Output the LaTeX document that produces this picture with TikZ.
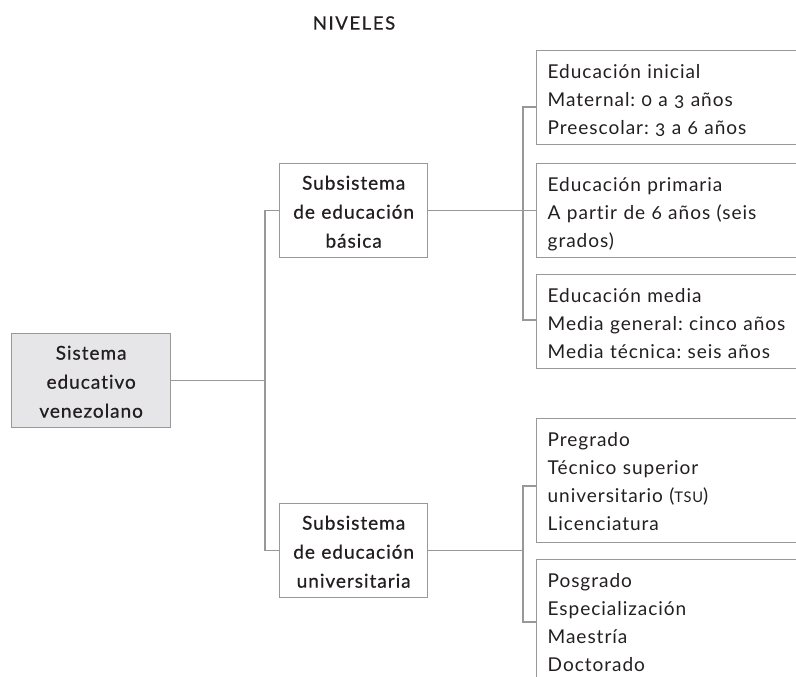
\documentclass[tikz,border=0pt]{standalone}
\usepackage{fontspec}
\setmainfont{Lato}[Numbers=OldStyle,LetterSpace=5,Ligatures=NoCommon]
\newfontfamily\medf{Lato}[Numbers=OldStyle,FakeBold=0.6,LetterSpace=5,Ligatures=NoCommon]
\newfontfamily\titf{Lato}[FakeBold=0.6,LetterSpace=9]
\frenchspacing
\newcommand\topst[1]{\rule{0pt}{#1}}
\newcommand\botst[1]{\rule[-#1]{0pt}{#1}}
\newcommand\fakesc[1]{{\fontsize{11pt}{11pt}\selectfont #1}}
\definecolor{linegray}{RGB}{152,152,152}
\definecolor{rootfill}{RGB}{230,230,232}
\definecolor{ink}{RGB}{35,31,32}
\tikzset{
  conn/.style={draw=linegray,line width=1pt},
  midbox/.style={draw=linegray,line width=1pt,anchor=north west,inner xsep=0pt,inner ysep=0pt,
    minimum width=111pt,text width=111pt,align=center,text=ink,
    font=\medf\fontsize{14.3pt}{21.75pt}\selectfont},
  rootbox/.style={midbox,minimum width=119.25pt,text width=119.25pt,fill=rootfill},
  leafbox/.style={draw=linegray,line width=1pt,anchor=north west,inner xsep=8.25pt,inner ysep=0pt,
    text width=204pt,align=left,text=ink,
    font=\frenchspacing\fontsize{14.3pt}{21pt}\selectfont},
  titlenode/.style={text=ink,font=\titf\fontsize{13.8pt}{16pt}\selectfont}
}
\begin{document}
\begin{tikzpicture}[x=0.75pt,y=-0.75pt]
\useasboundingbox (0,0) rectangle (796,677);
\clip (0,0) rectangle (796,677);

\node[titlenode] (title) at (354,23) {NIVELES};

\node[rootbox] (root) at (11,333) {\topst{19.5pt}Sistema\\educativo\\venezolano\botst{7.5pt}};

\node[midbox] (basic) at (279,163) {\topst{19.5pt}Subsistema\\de educación\\básica\botst{7.5pt}};
\node[midbox] (univ) at (279,503) {\topst{19.5pt}Subsistema\\de educación\\universitaria\botst{7.5pt}};

\node[leafbox] (r1) at (536,50) {\topst{21pt}Educación inicial\\Maternal: 0 a 3 años\\Preescolar: 3 a 6 años\botst{7.5pt}};
\node[leafbox] (r2) at (536,163) {\topst{21pt}Educación primaria\\A partir de 6 años (seis\\grados)\botst{7.5pt}};
\node[leafbox] (r3) at (536,274) {\topst{21pt}Educación media\\Media general: cinco años\\Media técnica: seis años\botst{7.5pt}};
\node[leafbox] (r4) at (536,418) {\topst{21pt}Pregrado\\Técnico superior\\universitario (\fakesc{TSU})\\Licenciatura\botst{9pt}};
\node[leafbox] (r5) at (536,559) {\topst{21pt}Posgrado\\Especialización\\Maestría\\Doctorado\botst{9pt}};

% junctions
\coordinate (j1) at (root.east -| 265,0);
\coordinate (j2) at (basic.east -| 523,0);
\coordinate (j3) at (univ.east -| 523,0);
\coordinate (t1) at (536,107);
\coordinate (t2) at (basic.east -| 536,0);
\coordinate (t3) at (536,320);
\coordinate (t4) at (536,486);
\coordinate (t5) at (536,622);

\draw[conn] (root.east) -- (j1);
\draw[conn] (j1) |- (basic.west);
\draw[conn] (j1) |- (univ.west);

\draw[conn] (basic.east) -- (j2);
\draw[conn] (j2) |- (t1);
\draw[conn] (j2) |- (t2);
\draw[conn] (j2) |- (t3);

\draw[conn] (univ.east) -- (j3);
\draw[conn] (j3) |- (t4);
\draw[conn] (j3) |- (t5);
\end{tikzpicture}
\end{document}
